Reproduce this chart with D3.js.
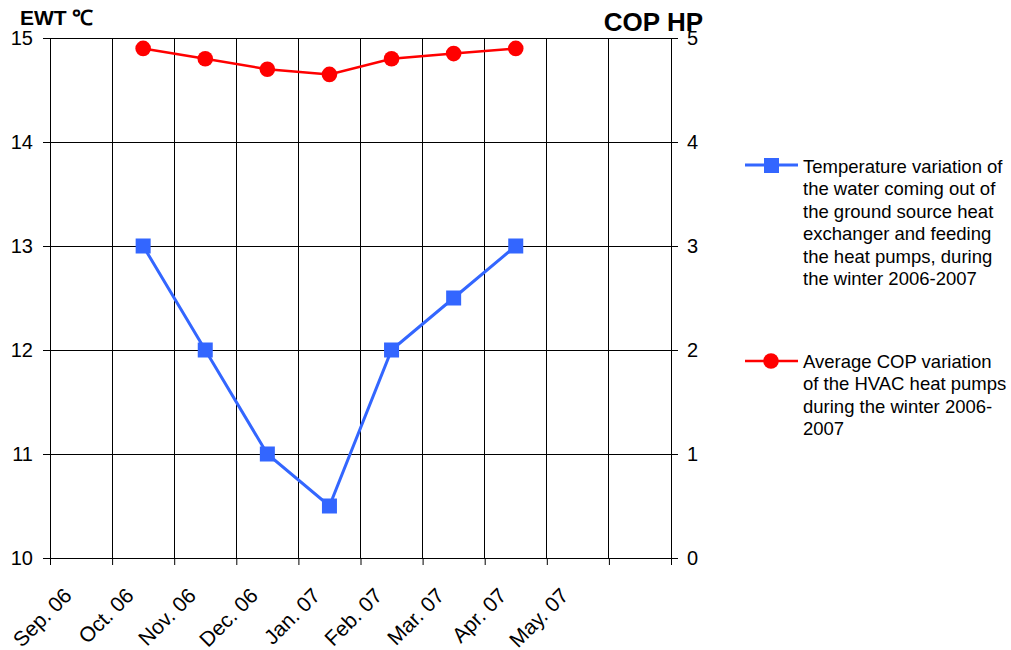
<!DOCTYPE html>
<html>
<head>
<meta charset="utf-8">
<script src="https://cdn.jsdelivr.net/npm/d3@7"></script>
<style>
  body { margin: 0; background: #fff; }
  svg { font-family: 'Liberation Sans', Arial, sans-serif; }
</style>
</head>
<body>
<script>
// data
var months = ['Sep. 06', 'Oct. 06', 'Nov. 06', 'Dec. 06', 'Jan. 07', 'Feb. 07', 'Mar. 07', 'Apr. 07', 'May. 07']
var pointMonths = ['Oct. 06', 'Nov. 06', 'Dec. 06', 'Jan. 07', 'Feb. 07', 'Mar. 07', 'Apr. 07']
var ewt = [13, 12, 11, 10.5, 12, 12.5, 13]
var cop = [4.9, 4.8, 4.7, 4.65, 4.8, 4.85, 4.9]
var ewtTicks = [10, 11, 12, 13, 14, 15]
var copTicks = [0, 1, 2, 3, 4, 5]
var legendEwt = ['Temperature variation of', 'the water coming out of', 'the ground source heat',
  'exchanger and feeding', 'the heat pumps, during', 'the winter 2006-2007']
var legendCop = ['Average COP variation', 'of the HVAC heat pumps', 'during the winter 2006-', '2007']

var w = 1011
var h = 650
var plotLeft = 50
var plotRight = 671
var plotTop = 38
var plotBottom = 558
var slots = 10

var svg = d3.select('body')
  .append('svg')
  .attr('width', w)
  .attr('height', h)

var xScale = d3.scaleLinear().domain([0, slots]).range([plotLeft, plotRight])
var yLeft = d3.scaleLinear().domain([10, 15]).range([plotBottom, plotTop])
var yRight = d3.scaleLinear().domain([0, 5]).range([plotBottom, plotTop])

// grid
svg.append('g')
  .selectAll('line')
  .data(d3.range(1, slots))
  .enter()
  .append('line')
  .attr('x1', function (d) { return xScale(d) })
  .attr('x2', function (d) { return xScale(d) })
  .attr('y1', plotTop)
  .attr('y2', plotBottom)
  .attr('stroke', '#000')
  .attr('shape-rendering', 'crispEdges')

svg.append('g')
  .selectAll('line')
  .data(ewtTicks.slice(1))
  .enter()
  .append('line')
  .attr('x1', plotLeft)
  .attr('x2', plotRight)
  .attr('y1', function (d) { return yLeft(d) })
  .attr('y2', function (d) { return yLeft(d) })
  .attr('stroke', '#000')
  .attr('shape-rendering', 'crispEdges')

// axes
svg.append('g')
  .attr('transform', 'translate(' + plotLeft + ',0)')
  .call(d3.axisLeft(yLeft).tickValues(ewtTicks).tickFormat(d3.format('d')).tickSize(7).tickPadding(10))
svg.append('g')
  .attr('transform', 'translate(' + plotRight + ',0)')
  .call(d3.axisRight(yRight).tickValues(copTicks).tickFormat(d3.format('d')).tickSize(7).tickPadding(9))
svg.append('g')
  .attr('transform', 'translate(0,' + plotBottom + ')')
  .call(d3.axisBottom(xScale).tickValues(d3.range(0, slots + 1)).tickSize(7).tickFormat(''))

svg.selectAll('.domain').attr('stroke', '#000')
svg.selectAll('.tick line').attr('stroke', '#000')
svg.selectAll('.tick text').attr('font-size', '20px').attr('fill', '#000')
  .attr('font-family', 'Liberation Sans, Arial, sans-serif')

// x labels, rotated
svg.append('g')
  .selectAll('text')
  .data(months)
  .enter()
  .append('text')
  .attr('transform', function (d, i) {
    return 'translate(' + (xScale(i) + 23) + ',' + (plotBottom + 39) + ') rotate(-45)'
  })
  .attr('text-anchor', 'end')
  .attr('font-size', '21px')
  .text(function (d) { return d })

// lines
var xPoint = function (d, i) { return xScale(months.indexOf(pointMonths[i]) + 0.5) }

svg.append('path')
  .datum(ewt)
  .attr('fill', 'none')
  .attr('stroke', '#3366ff')
  .attr('stroke-width', 3)
  .attr('d', d3.line().x(xPoint).y(function (d) { return yLeft(d) }))

svg.append('path')
  .datum(cop)
  .attr('fill', 'none')
  .attr('stroke', '#ff0000')
  .attr('stroke-width', 2.5)
  .attr('d', d3.line().x(xPoint).y(function (d) { return yRight(d) }))

svg.selectAll('rect.ewt')
  .data(ewt)
  .enter()
  .append('rect')
  .attr('class', 'ewt')
  .attr('x', function (d, i) { return xPoint(d, i) - 7.5 })
  .attr('y', function (d) { return yLeft(d) - 7.5 })
  .attr('width', 15)
  .attr('height', 15)
  .attr('fill', '#3366ff')

svg.selectAll('circle.cop')
  .data(cop)
  .enter()
  .append('circle')
  .attr('class', 'cop')
  .attr('cx', xPoint)
  .attr('cy', function (d) { return yRight(d) })
  .attr('r', 7.8)
  .attr('fill', '#ff0000')

// axis titles
svg.append('text')
  .attr('x', 20)
  .attr('y', 25)
  .attr('font-size', '21px')
  .attr('font-weight', 'bold')
  .text('EWT ℃')

svg.append('text')
  .attr('x', 703)
  .attr('y', 31)
  .attr('text-anchor', 'end')
  .attr('font-size', '26px')
  .attr('font-weight', 'bold')
  .text('COP HP')

// legend
var legend = svg.append('g')

legend.append('line')
  .attr('x1', 745).attr('x2', 798).attr('y1', 165).attr('y2', 165)
  .attr('stroke', '#3366ff').attr('stroke-width', 3)
legend.append('rect')
  .attr('x', 764).attr('y', 158).attr('width', 15).attr('height', 15)
  .attr('fill', '#3366ff')
legend.append('text')
  .attr('font-size', '18.5px')
  .selectAll('tspan')
  .data(legendEwt)
  .enter()
  .append('tspan')
  .attr('x', 803)
  .attr('y', function (d, i) { return 173 + i * 22.4 })
  .text(function (d) { return d })

legend.append('line')
  .attr('x1', 745).attr('x2', 798).attr('y1', 361).attr('y2', 361)
  .attr('stroke', '#ff0000').attr('stroke-width', 2.5)
legend.append('circle')
  .attr('cx', 771).attr('cy', 361).attr('r', 7.8)
  .attr('fill', '#ff0000')
legend.append('text')
  .attr('font-size', '18.5px')
  .selectAll('tspan')
  .data(legendCop)
  .enter()
  .append('tspan')
  .attr('x', 803)
  .attr('y', function (d, i) { return 368 + i * 22.4 })
  .text(function (d) { return d })
</script>
</body>
</html>
